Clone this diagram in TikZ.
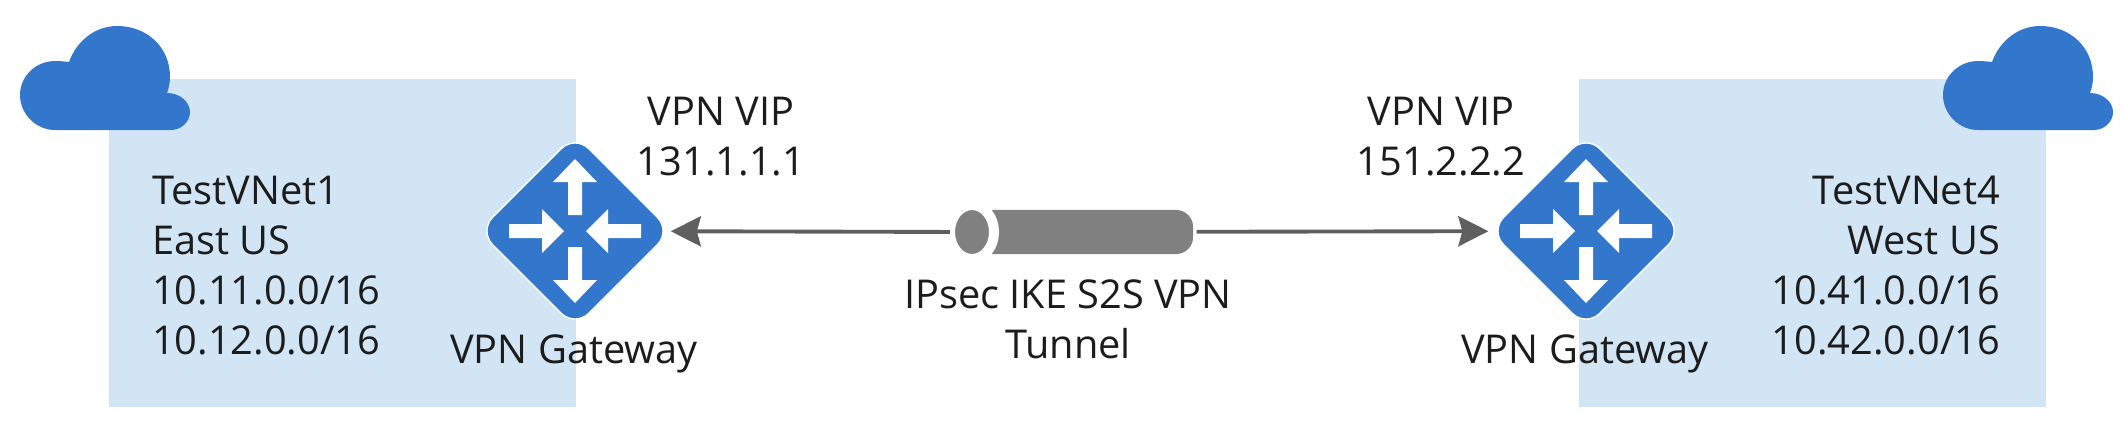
\documentclass[tikz,border=0pt]{standalone}
\usepackage{fontspec}
\setmainfont{Open Sans}
\usetikzlibrary{arrows.meta,shapes.geometric}
\definecolor{azureblue}{HTML}{3277CC}
\definecolor{vnetblue}{HTML}{D2E5F5}
\definecolor{tunnelgray}{HTML}{808080}
\definecolor{linkgray}{HTML}{5F5F5F}
\definecolor{labelink}{HTML}{1C1C1C}
\tikzset{
	vnetcloud/.pic={
		\fill[azureblue] (55,302) .. controls (36,302) and (20,318) .. (20,337)
		.. controls (20,356) and (36,371) .. (55,371)
		.. controls (60,371) and (65,370.5) .. (69,370)
		.. controls (77,392) and (96,406) .. (117,406)
		.. controls (147,406) and (170,385) .. (170,355)
		.. controls (170,350) and (169,344) .. (167,339)
		.. controls (180,339) and (190,330) .. (190,320)
		.. controls (190,310) and (181,302) .. (171,302) -- cycle;
	},
	gwarrows/.pic={
		\foreach \a in {90,270}
		\fill[white,rotate=\a] (16,-7)--(49,-7)--(49,-22)--(72,0)--(49,22)--(49,7)--(16,7)--cycle;
		\foreach \a in {0,180}
		\fill[white,rotate=\a] (-66,-7)--(-33,-7)--(-33,-22)--(-11,0)--(-33,22)--(-33,7)--(-66,7)--cycle;
	},
	gateway/.style={diamond,fill=azureblue,draw=white,line width=0.4pt,rounded corners=5.5pt,minimum width=1.92cm,minimum height=1.92cm,inner sep=0,outer sep=0},
	tunnelbody/.style={rectangle,fill=tunnelgray,rounded corners=4.8pt,minimum width=2.18cm,minimum height=0.44cm,inner sep=0,outer sep=0},
	tunnelend/.style={ellipse,fill=tunnelgray,draw=white,line width=0.1cm,minimum width=0.44cm,minimum height=0.54cm,inner sep=0,outer sep=0},
	vpnlink/.style={draw=linkgray,line width=1.1pt,-{Stealth[length=0.3cm,width=0.3cm,inset=0.04cm,linkgray]}},
	txt/.style={text=labelink,inner sep=0,outer sep=0,font=\fontsize{11.3pt}{14.2pt}\selectfont},
}
\begin{document}
\begin{tikzpicture}[x=0.01cm,y=0.01cm]
	\useasboundingbox (0,0) rectangle (2124,432);
	\fill[vnetblue] (109,25) rectangle (576,353);
	\fill[vnetblue] (1579,25) rectangle (2046,353);
	\pic at (0,0) {vnetcloud};
	\pic at (1923,0) {vnetcloud};
	% gateways
	\node[gateway] (gwLeft) at (575,201) {};
	\node[gateway] (gwRight) at (1586,201) {};
	\pic at (gwLeft) {gwarrows};
	\pic at (gwRight) {gwarrows};
	% tunnel
	\node[tunnelbody] (tube) at (1084,200) {};
	\node[tunnelend] (tubeEnd) at (972,200) {};
	\draw[vpnlink] (tubeEnd) -- (gwLeft);
	\draw[vpnlink,shorten <=1pt,shorten >=0.5pt] (tube) -- (gwRight);
	% labels
	\node[txt,anchor=north west,align=left] (netLeft) at (152,256) {TestVNet1\\East US\\10.11.0.0/16\\10.12.0.0/16};
	\node[txt,anchor=north east,align=right] (netRight) at (2000,256) {TestVNet4\\West US\\10.41.0.0/16\\10.42.0.0/16};
	\node[txt,anchor=north,align=center] (vipLeft) at (721,335) {VPN VIP\\131.1.1.1};
	\node[txt,anchor=north,align=center] (vipRight) at (1441,335) {VPN VIP\\151.2.2.2};
	\node[txt,anchor=north] (gwLabelLeft) at (574,97) {VPN Gateway};
	\node[txt,anchor=north] (gwLabelRight) at (1585,97) {VPN Gateway};
	\node[txt,anchor=north,align=center] (tubeLabel) at (1068,152) {IPsec IKE S2S VPN\\Tunnel};
\end{tikzpicture}
\end{document}
